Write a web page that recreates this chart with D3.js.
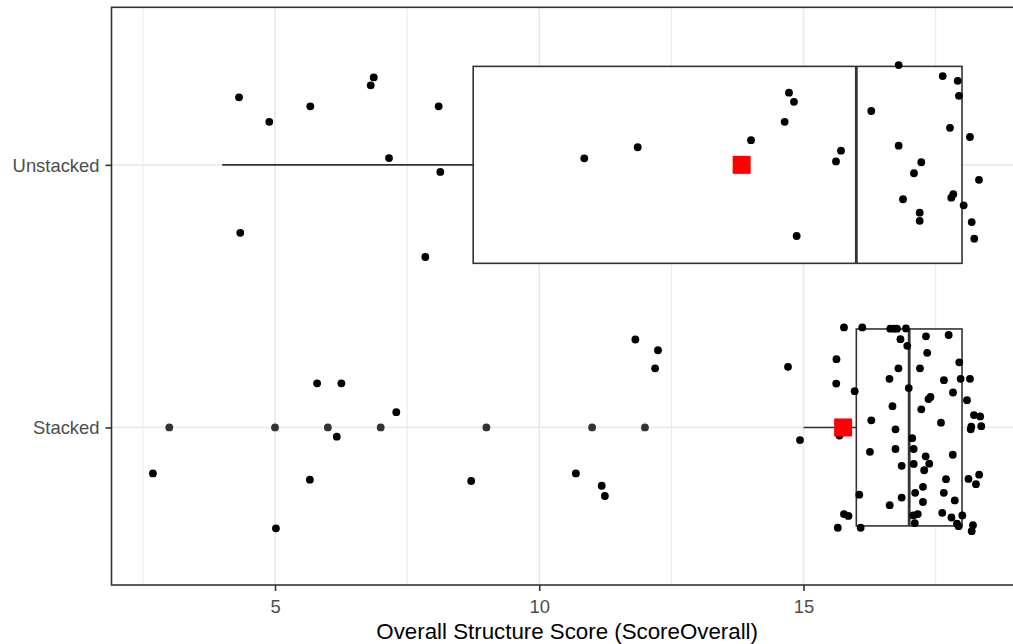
<!DOCTYPE html>
<html>
<head>
<meta charset="utf-8">
<script src="https://cdn.jsdelivr.net/npm/d3@7"></script>
<style>
  html, body { margin: 0; padding: 0; background: #fff; }
  svg { display: block; font-family: "Liberation Sans", Arial, sans-serif; }
</style>
</head>
<body>
<svg id="chart" width="1013" height="644"></svg>
<script>
// Groups, bottom to top on the y axis
const groups = ["Stacked", "Unstacked"];

// Box statistics per group (same order as groups)
const whiskerLow = [15, 4];
const q1         = [16, 8.75];
const median     = [17, 16];
const q3         = [18, 18];
const whiskerHigh = [18, 18];
const groupMean  = [15.75, 13.83];

// Outliers of the Stacked group (drawn on the group line)
const stackedOutliers = [3, 5, 6, 7, 9, 11, 12];

// Jittered observations: score and vertical jitter (in group units)
const unstackedScore = [4.319, 4.892, 5.668, 6.868, 6.811, 7.157, 8.097, 8.128, 4.343, 7.844,
  10.852, 11.863, 14.007, 14.726, 14.820, 14.644, 15.710, 15.615, 14.871, 16.801,
  16.283, 17.634, 17.918, 17.942, 17.772, 18.150, 16.801, 17.229, 17.091, 18.321,
  16.883, 17.835, 17.797, 18.031, 17.199, 17.199, 18.183, 18.232];
const unstackedJitter = [0.257, 0.164, 0.223, 0.333, 0.303, 0.026, 0.223, -0.027, -0.259, -0.351,
  0.025, 0.067, 0.094, 0.275, 0.240, 0.164, 0.054, 0.013, -0.271, 0.380,
  0.205, 0.338, 0.320, 0.263, 0.141, 0.106, 0.073, 0.010, -0.032, -0.057,
  -0.131, -0.112, -0.125, -0.154, -0.182, -0.213, -0.218, -0.281];

const stackedScore = [2.690, 5.017, 5.797, 6.256, 6.169, 5.660, 7.295, 8.712, 10.693, 11.182,
  11.242, 11.819, 12.247, 12.192, 14.707, 14.934, 15.766, 16.113, 16.642, 16.712,
  16.769, 16.940, 16.835, 16.964, 15.624, 16.797, 16.627, 15.620, 15.969, 16.992,
  16.684, 16.283, 16.741, 15.681, 16.258, 16.741, 16.858, 16.056, 16.858, 16.631,
  15.766, 15.851, 15.649, 16.082, 17.318, 17.747, 17.341, 17.204, 17.948, 17.658,
  17.974, 18.150, 17.829, 17.403, 17.365, 18.094, 17.229, 18.226, 18.343, 18.175,
  18.364, 18.164, 17.602, 17.057, 17.085, 17.312, 17.380, 17.085, 17.284, 17.825,
  17.697, 18.122, 18.324, 18.264, 17.261, 17.113, 17.655, 17.261, 17.863, 17.163,
  17.078, 17.626, 17.800, 18.005, 17.106, 17.904, 17.936, 18.207, 18.183];
const stackedJitter = [-0.175, -0.384, 0.168, 0.168, -0.035, -0.199, 0.058, -0.204, -0.175, -0.222,
  -0.261, 0.335, 0.294, 0.225, 0.231, -0.048, 0.381, 0.381, 0.376, 0.376,
  0.376, 0.377, 0.336, 0.311, 0.260, 0.225, 0.185, 0.167, 0.138, 0.150,
  0.081, 0.027, -0.007, -0.031, -0.093, -0.082, -0.146, -0.256, -0.267, -0.296,
  -0.330, -0.337, -0.382, -0.382, 0.347, 0.352, 0.284, 0.225, 0.248, 0.180,
  0.185, 0.185, 0.133, 0.116, 0.108, 0.104, 0.069, 0.047, 0.042, 0.003,
  0.005, -0.007, 0.018, -0.041, -0.082, -0.110, -0.138, -0.139, -0.163, -0.104,
  -0.197, -0.196, -0.180, -0.216, -0.226, -0.249, -0.249, -0.284, -0.278, -0.330,
  -0.335, -0.325, -0.343, -0.335, -0.364, -0.366, -0.376, -0.372, -0.395];

const xTicks = [5, 10, 15];
const xMinorTicks = [2.5, 7.5, 12.5, 17.5];
const xTitle = "Overall Structure Score (ScoreOverall)";

// ---- layout ----
const panel = { left: 111.5, right: 1022.8, top: 7.3, bottom: 585 };
const svg = d3.select("#chart");

const x = d3.scaleLinear().domain([1.906, 19.15]).range([panel.left, panel.right]);
// groups sit at 1 and 2 with 0.6 padding on either side
const y = d3.scaleLinear().domain([0.4, 2.6]).range([panel.bottom, panel.top]);
const gy = i => y(i + 1);

const clipId = "panel-clip";
svg.append("defs").append("clipPath").attr("id", clipId)
  .append("rect")
  .attr("x", panel.left).attr("y", panel.top)
  .attr("width", panel.right - panel.left).attr("height", panel.bottom - panel.top);

const plot = svg.append("g").attr("clip-path", `url(#${clipId})`);

// grid
plot.append("g").selectAll("line").data(xMinorTicks).join("line")
  .attr("x1", d => x(d)).attr("x2", d => x(d))
  .attr("y1", panel.top).attr("y2", panel.bottom)
  .attr("stroke", "#ebebeb").attr("stroke-width", 1.1);
plot.append("g").selectAll("line").data(xTicks).join("line")
  .attr("x1", d => x(d)).attr("x2", d => x(d))
  .attr("y1", panel.top).attr("y2", panel.bottom)
  .attr("stroke", "#ebebeb").attr("stroke-width", 1.8);
plot.append("g").selectAll("line").data(groups).join("line")
  .attr("x1", panel.left).attr("x2", panel.right)
  .attr("y1", (d, i) => gy(i)).attr("y2", (d, i) => gy(i))
  .attr("stroke", "#ebebeb").attr("stroke-width", 1.8);

// boxplots
const boxHalf = (y(0) - y(0.375));
const boxColor = "#333333";
const lineW = 1.6;
const boxes = plot.append("g").selectAll("g").data(groups).join("g");
boxes.append("line")
  .attr("x1", (d, i) => x(whiskerLow[i])).attr("x2", (d, i) => x(q1[i]))
  .attr("y1", (d, i) => gy(i)).attr("y2", (d, i) => gy(i))
  .attr("stroke", boxColor).attr("stroke-width", lineW);
boxes.append("line")
  .attr("x1", (d, i) => x(q3[i])).attr("x2", (d, i) => x(whiskerHigh[i]))
  .attr("y1", (d, i) => gy(i)).attr("y2", (d, i) => gy(i))
  .attr("stroke", boxColor).attr("stroke-width", lineW);
boxes.append("rect")
  .attr("x", (d, i) => x(q1[i]))
  .attr("width", (d, i) => x(q3[i]) - x(q1[i]))
  .attr("y", (d, i) => gy(i) - boxHalf)
  .attr("height", 2 * boxHalf)
  .attr("fill", "#fff").attr("stroke", boxColor).attr("stroke-width", lineW);
boxes.append("line")
  .attr("x1", (d, i) => x(median[i])).attr("x2", (d, i) => x(median[i]))
  .attr("y1", (d, i) => gy(i) - boxHalf).attr("y2", (d, i) => gy(i) + boxHalf)
  .attr("stroke", boxColor).attr("stroke-width", 2.8);

// outliers
const pr = 3.9;
plot.append("g").selectAll("circle").data(stackedOutliers).join("circle")
  .attr("cx", d => x(d)).attr("cy", gy(0)).attr("r", pr)
  .attr("fill", boxColor);

// jittered observations
const obs = [];
stackedScore.forEach((s, k) => obs.push({ s, p: 1 + stackedJitter[k] }));
unstackedScore.forEach((s, k) => obs.push({ s, p: 2 + unstackedJitter[k] }));
plot.append("g").selectAll("circle").data(obs).join("circle")
  .attr("cx", d => x(d.s)).attr("cy", d => y(d.p)).attr("r", pr)
  .attr("fill", "#000");

// group means
const sq = 18;
plot.append("g").selectAll("rect").data(groups).join("rect")
  .attr("x", (d, i) => x(groupMean[i]) - sq / 2)
  .attr("y", (d, i) => gy(i) - sq / 2)
  .attr("width", sq).attr("height", sq)
  .attr("fill", "#ff0000");

// panel border
svg.append("rect")
  .attr("x", panel.left).attr("y", panel.top)
  .attr("width", panel.right - panel.left).attr("height", panel.bottom - panel.top)
  .attr("fill", "none").attr("stroke", "#333333").attr("stroke-width", lineW);

// axes
const xAxis = svg.append("g")
  .attr("transform", `translate(0,${panel.bottom})`)
  .call(d3.axisBottom(x).tickValues(xTicks).tickSize(6).tickFormat(d3.format("d")));
xAxis.select(".domain").remove();
xAxis.selectAll(".tick line").attr("stroke", "#333333").attr("stroke-width", lineW);
xAxis.selectAll(".tick text")
  .attr("y", 28).attr("dy", 0)
  .attr("fill", "#4d4d4d").style("font-size", "18.4px");

const yAxis = svg.append("g")
  .attr("transform", `translate(${panel.left},0)`)
  .call(d3.axisLeft(y).tickValues([1, 2]).tickSize(6).tickPadding(6)
    .tickFormat(d => groups[d - 1]));
yAxis.select(".domain").remove();
yAxis.selectAll(".tick line").attr("stroke", "#333333").attr("stroke-width", lineW);
yAxis.selectAll(".tick text")
  .attr("fill", "#4d4d4d").attr("dy", "0.35em").style("font-size", "18.4px");

svg.append("text")
  .attr("x", (panel.left + panel.right) / 2)
  .attr("y", 639)
  .attr("text-anchor", "middle")
  .attr("fill", "#000")
  .style("font-size", "22.3px")
  .text(xTitle);
</script>
</body>
</html>
